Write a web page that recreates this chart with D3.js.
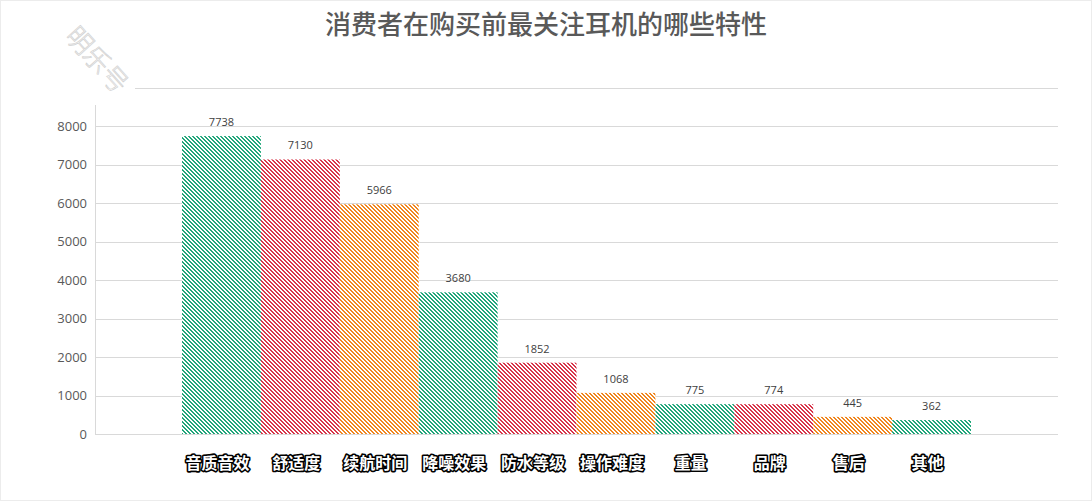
<!DOCTYPE html>
<html><head><meta charset="utf-8">
<script src="https://cdn.jsdelivr.net/npm/d3@7"></script>
<style>body{margin:0;background:#fff}svg{display:block}</style>
</head><body>
<script>
const categories = ["音质音效","舒适度","续航时间","降噪效果","防水等级","操作难度","重量","品牌","售后","其他"];
const values = [7738,7130,5966,3680,1852,1068,775,774,445,362];
const yTicks = [0,1000,2000,3000,4000,5000,6000,7000,8000,9000];
const palette = ["#21a67a","#d8354a","#f0861f"];
const title = "消费者在购买前最关注耳机的哪些特性";
const watermark = "明乐号";

const W=1092,H=502;
const svg=d3.select("body").append("svg").attr("width",W).attr("height",H);
svg.append("rect").attr("x",0.5).attr("y",0.5).attr("width",W-1).attr("height",H-2).attr("fill","#fff").attr("stroke","#ececec");

const defs=svg.append("defs");
palette.forEach((c,i)=>{
  const p=defs.append("pattern").attr("id","hatch"+i).attr("patternUnits","userSpaceOnUse").attr("width",4).attr("height",4);
  p.append("rect").attr("width",4).attr("height",4).attr("fill","#fff");
  const cells=[];
  for(let py=0;py<4;py++)for(let px=0;px<4;px++){ if(((px-py)%4+4)%4<2) cells.push([px,py]); }
  p.selectAll("rect.c").data(cells).join("rect").attr("class","c")
    .attr("x",d=>d[0]).attr("y",d=>d[1]).attr("width",1).attr("height",1)
    .attr("fill",c).attr("shape-rendering","crispEdges");
});

const x=d3.scaleBand().domain(categories).range([182,971]).padding(0);
const y=d3.scaleLinear().domain([0,9000]).range([434,87.5]);

svg.append("g").selectAll("line").data(yTicks).join("line")
  .attr("x1",95).attr("x2",1058).attr("y1",d=>Math.round(y(d))+0.5).attr("y2",d=>Math.round(y(d))+0.5)
  .attr("stroke","#d9d9d9").attr("stroke-width",1);
svg.append("line").attr("x1",95.5).attr("x2",95.5).attr("y1",y(9000)).attr("y2",434).attr("stroke","#d9d9d9");

const yAxis=d3.axisLeft(y).tickValues(yTicks).tickSize(0).tickPadding(8).tickFormat(d3.format("d"));
const ga=svg.append("g").attr("transform","translate(95,0)").call(yAxis);
ga.select(".domain").remove();
ga.selectAll("text").attr("font-family","'Open Sans','Noto Sans',sans-serif").attr("font-size",13).attr("fill","#595959");

svg.append("g").selectAll("rect").data(values).join("rect")
  .attr("x",(d,i)=>x(categories[i])).attr("width",x.bandwidth())
  .attr("y",d=>y(d)).attr("height",d=>y(0)-y(d))
  .attr("fill",(d,i)=>`url(#hatch${i%3})`);

svg.append("g").selectAll("text").data(values).join("text")
  .attr("x",(d,i)=>x(categories[i])+x.bandwidth()/2).attr("y",d=>y(d)-10)
  .attr("text-anchor","middle").attr("font-family","'Open Sans','Noto Sans',sans-serif")
  .attr("font-size",11).attr("fill","#404040").text(d=>d);

svg.append("g").selectAll("text").data(categories).join("text")
  .attr("x",d=>x(d)+x.bandwidth()/2-4).attr("y",469)
  .attr("text-anchor","middle").attr("font-family","'Noto Sans CJK SC',sans-serif")
  .attr("font-size",16).attr("font-weight","bold")
  .attr("fill","#fff").attr("stroke","#000").attr("stroke-width",3.2).attr("paint-order","stroke")
  .attr("stroke-linejoin","round").text(d=>d);

svg.append("text").attr("x",546).attr("y",34).attr("text-anchor","middle")
  .attr("font-family","'Noto Sans CJK SC',sans-serif").attr("font-size",26).attr("font-weight","500")
  .attr("fill","#595959").text(title);

svg.append("rect").attr("x",40).attr("y",3).attr("width",95).attr("height",102).attr("fill","#fff");
svg.append("text").attr("transform","translate(90,66) rotate(48)").attr("text-anchor","middle")
  .attr("font-family","'Noto Sans CJK SC',sans-serif").attr("font-size",26).attr("font-weight","300")
  .attr("fill","#fff").attr("stroke","#d0d0d0").attr("stroke-width",0.7).text(watermark);
</script>
</body></html>
